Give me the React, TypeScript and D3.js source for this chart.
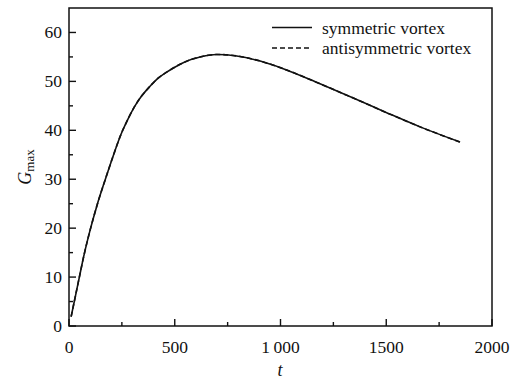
import React from "react";
import * as d3 from "d3";

const tValues = [10, 25, 49, 72, 101, 132, 172, 206, 246, 280, 312, 345, 383, 420, 462, 500, 540, 580, 619, 660, 698, 793, 900, 1013, 1187, 1344, 1502, 1660, 1849];
const symmetricG = [1.9, 5.0, 10.0, 14.7, 19.8, 24.6, 30.0, 34.4, 39.2, 42.4, 45.0, 47.1, 49.0, 50.6, 51.9, 52.9, 53.8, 54.5, 55.0, 55.35, 55.5, 55.2, 54.2, 52.6, 49.5, 46.6, 43.6, 40.7, 37.6];
const antisymmetricG = [1.9, 5.0, 10.0, 14.7, 19.8, 24.6, 30.0, 34.4, 39.2, 42.4, 45.0, 47.1, 49.0, 50.6, 51.9, 52.9, 53.8, 54.5, 55.0, 55.35, 55.5, 55.2, 54.2, 52.6, 49.5, 46.6, 43.6, 40.7, 37.6];
const xTicks = [0, 500, 1000, 1500, 2000];
const xTickLabels = ["0", "500", "1\u2009000", "1500", "2000"];
const xMinor = [250, 750, 1250, 1750];
const yTicks = [0, 10, 20, 30, 40, 50, 60];
const yMinor = [5, 15, 25, 35, 45, 55];
const legendLabels = ["symmetric vortex", "antisymmetric vortex"];

const W = 520, H = 385;
const L = 69, R = 492, T = 8, B = 326;
const FONT = "Liberation Serif, Times New Roman, Times, DejaVu Serif, serif";

export default function App() {
  const x = d3.scaleLinear().domain([0, 2000]).range([L, R]);
  const y = d3.scaleLinear().domain([0, 65]).range([B, T]);
  const line = d3
    .line<number>()
    .x((_, i) => x(tValues[i]))
    .y((d) => y(d))
    .curve(d3.curveMonotoneX);
  const col = "#111";
  const ts = { fontFamily: FONT };
  return (
    <svg width={W} height={H} style={{ position: "absolute", left: 0, top: 0, background: "#fff" }}>
      <rect x={0} y={0} width={W} height={H} fill="#fff" />
      <path d={line(symmetricG) || ""} fill="none" stroke={col} strokeWidth={1.6} />
      <path d={line(antisymmetricG) || ""} fill="none" stroke={col} strokeWidth={1.6} strokeDasharray="5,3" />
      <rect x={L} y={T} width={R - L} height={B - T} fill="none" stroke={col} strokeWidth={1.5} />
      {xTicks.map((v, i) => (
        <g key={"xt" + v}>
          <line x1={x(v)} x2={x(v)} y1={B} y2={B - 7} stroke={col} strokeWidth={1.4} />
          <text x={x(v)} y={353} textAnchor="middle" fontSize={17.5} fill={col} style={ts}>{xTickLabels[i]}</text>
        </g>
      ))}
      {xMinor.map((v) => (
        <line key={"xm" + v} x1={x(v)} x2={x(v)} y1={B} y2={B - 4} stroke={col} strokeWidth={1.4} />
      ))}
      {yTicks.map((v) => (
        <g key={"yt" + v}>
          <line x1={L} x2={L + 7} y1={y(v)} y2={y(v)} stroke={col} strokeWidth={1.4} />
          <text x={62} y={y(v) + 6} textAnchor="end" fontSize={17.5} fill={col} style={ts}>{v}</text>
        </g>
      ))}
      {yMinor.map((v) => (
        <line key={"ym" + v} x1={L} x2={L + 4} y1={y(v)} y2={y(v)} stroke={col} strokeWidth={1.4} />
      ))}
      <text x={280} y={376} textAnchor="middle" fontSize={18} fontStyle="italic" fill={col} style={ts}>t</text>
      <text transform={`translate(31,${(T + B) / 2}) rotate(-90)`} textAnchor="middle" fontSize={18} fill={col} style={ts}>
        <tspan fontStyle="italic">G</tspan>
        <tspan fontSize={13} dy={3}>max</tspan>
      </text>
      {legendLabels.map((lab, i) => (
        <g key={lab}>
          <line x1={272} x2={312} y1={27.5 + i * 20.5} y2={27.5 + i * 20.5} stroke={col} strokeWidth={1.6}
            strokeDasharray={i === 1 ? "5,3" : undefined} />
          <text x={322} y={33.5 + i * 20.5} fontSize={17.5} fill={col} style={ts}>{lab}</text>
        </g>
      ))}
    </svg>
  );
}
